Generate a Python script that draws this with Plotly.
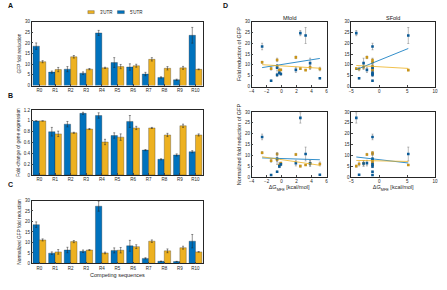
import numpy as np
import plotly.graph_objects as go

cats = ["R0", "R1", "R2", "R3", "R4", "R5", "R6", "R7", "R8", "R9", "R10"]
legend_names = ["3'UTR", "5'UTR"]

# Panel A: GFP fold reduction
a_5 = [18.5, 6.3, 7.7, 5.8, 24.7, 10.8, 8.7, 5.4, 3.8, 2.7, 23.6]
a_5_err = [1.5, 0.5, 1.2, 0.6, 1.2, 2.3, 1.5, 0.8, 0.3, 0.3, 3.7]
a_3 = [11.2, 7.5, 13.5, 7.7, 8.3, 8.9, 9.3, 12.3, 8.1, 8.3, 7.6]
a_3_err = [0.5, 1.0, 0.6, 0.3, 0.3, 1.0, 0.7, 0.8, 0.8, 0.7, 0.2]

# Panel B: fold-change of gene expression
b_5 = [1.0, 0.80, 0.94, 1.14, 1.10, 0.73, 0.99, 0.46, 0.29, 0.37, 0.43]
b_5_err = [0.0, 0.08, 0.05, 0.02, 0.05, 0.05, 0.11, 0.01, 0.01, 0.02, 0.02]
b_3 = [1.0, 0.76, 0.78, 0.85, 0.61, 0.70, 0.87, 0.87, 0.74, 0.91, 0.74]
b_3_err = [0.0, 0.05, 0.01, 0.01, 0.05, 0.06, 0.03, 0.01, 0.03, 0.03, 0.02]

# Panel C: normalized GFP fold reduction
c_5 = [18.5, 4.9, 6.4, 5.8, 27.3, 6.2, 8.4, 2.4, 1.0, 0.9, 10.6]
c_5_err = [1.3, 0.6, 1.3, 0.6, 2.4, 1.2, 2.6, 0.3, 0.1, 0.1, 3.2]
c_3 = [11.2, 5.5, 10.4, 6.4, 5.0, 6.3, 8.0, 10.6, 6.0, 7.5, 5.5]
c_3_err = [0.5, 1.1, 0.5, 0.2, 0.4, 1.3, 0.9, 0.6, 0.9, 0.7, 0.1]

# Panel D: free energies of the competing sequences
dg_mfold = [-2.6, -0.3, 1.9, -0.1, 2.5, 3.8, -0.6, -0.6, 5.1, -1.4, 3.2]
dg_sfold = [-1.2, -1.2, -2.2, -1.2, -4.1, -2.8, -1.2, -1.2, -3.6, -1.2, 5.2]

BLUE = "#0072BD"
YELLOW = "#EDB120"
AX = "#262626"
FONT = "Liberation Sans"
W, H = 447, 290


def dom_x(a, b):
    return [a / W, b / W]


def dom_y(top, bottom):
    return [1 - bottom / H, 1 - top / H]


fig = go.Figure()

bar_panels = [
    ("", a_5, a_5_err, a_3, a_3_err, (20, 85), "GFP fold reduction", [0, 30], 5),
    ("2", b_5, b_5_err, b_3, b_3_err, (110, 176), "Fold-change of gene expression", [0, 1.2], 0.2),
    ("3", c_5, c_5_err, c_3, c_3_err, (202, 266), "Normalized GFP fold reduction", [0, 30], 5),
]

layout = dict(
    width=W, height=H, margin=dict(l=0, r=0, t=0, b=0),
    paper_bgcolor="white", plot_bgcolor="white",
    font=dict(family=FONT, size=5, color=AX),
    barmode="group", bargap=0.18, bargroupgap=0.0,
    showlegend=False,
)

xpos = list(range(len(cats)))

for sfx, v5, e5, v3, e3, (top, bot), ttl, yr, dt in bar_panels:
    xa = "x" + sfx
    ya = "y" + sfx
    fig.add_trace(go.Bar(x=xpos, y=v5, name=legend_names[1],
                         marker=dict(color=BLUE, line=dict(color=AX, width=0.3)),
                         error_y=dict(type="data", array=e5, color=AX, thickness=0.5, width=1),
                         xaxis=xa, yaxis=ya, offsetgroup="5"))
    fig.add_trace(go.Bar(x=xpos, y=v3, name=legend_names[0],
                         marker=dict(color=YELLOW, line=dict(color=AX, width=0.3)),
                         error_y=dict(type="data", array=e3, color=AX, thickness=0.5, width=1),
                         xaxis=xa, yaxis=ya, offsetgroup="3"))
    layout["xaxis" + sfx] = dict(domain=dom_x(29, 203), anchor=ya, range=[-0.5, 10.5],
                                 tickvals=xpos, ticktext=cats, ticks="inside", ticklen=2,
                                 showline=True, linecolor=AX, linewidth=0.5, mirror=True,
                                 showgrid=False, zeroline=False, tickfont=dict(size=4.5))
    layout["yaxis" + sfx] = dict(domain=dom_y(top, bot), anchor=xa, range=yr, dtick=dt,
                                 ticks="inside", ticklen=2, showline=True, linecolor=AX,
                                 linewidth=0.5, mirror=True, showgrid=False, zeroline=False,
                                 tickfont=dict(size=4.5),
                                 title=dict(text=ttl, font=dict(size=4.8), standoff=3))

layout["xaxis3"]["title"] = dict(text="Competing sequences", font=dict(size=5.5), standoff=3)

# Panel D scatter subplots
scat = [
    ("4", dg_mfold, a_5, a_5_err, a_3, a_3_err, (252, 328), (20, 86), [-4, 6], 2, "Fold reduction of GFP", "Mfold", False),
    ("5", dg_sfold, a_5, a_5_err, a_3, a_3_err, (353, 438), (20, 86), [-5, 10], 5, None, "SFold", False),
    ("6", dg_mfold, c_5, c_5_err, c_3, c_3_err, (252, 328), (112, 178), [-4, 6], 2, "Normalized fold reduction of GFP", None, True),
    ("7", dg_sfold, c_5, c_5_err, c_3, c_3_err, (353, 438), (112, 178), [-5, 10], 5, None, None, True),
]

annotations = []
shapes = []
for sfx, xs, v5, e5, v3, e3, (xl, xr), (top, bot), xr_, xdt, ytitle, ptitle, xlab in scat:
    xa = "x" + sfx
    ya = "y" + sfx
    for vals, errs, col in ((v3, e3, "#C8941A"), (v5, e5, "#0A5A96")):
        fig.add_trace(go.Scatter(x=xs, y=vals, mode="markers", xaxis=xa, yaxis=ya,
                                 marker=dict(color=col, size=2.6, symbol="square"),
                                 error_y=dict(type="data", array=errs, color="#777777", thickness=0.5, width=1)))
    for vals, col in ((v5, BLUE), (v3, YELLOW)):
        k, b = np.polyfit(xs, vals, 1)
        lx = np.array([min(xs), max(xs)])
        fig.add_trace(go.Scatter(x=lx, y=k * lx + b, mode="lines", xaxis=xa, yaxis=ya,
                                 line=dict(color=col, width=0.8)))
    layout["xaxis" + sfx] = dict(domain=dom_x(xl, xr), anchor=ya, range=xr_, dtick=xdt,
                                 ticks="inside", ticklen=2, showline=True, linecolor=AX, linewidth=0.5,
                                 mirror=True, showgrid=False, zeroline=False, tickfont=dict(size=4.5))
    if xlab:
        layout["xaxis" + sfx]["title"] = dict(text="ΔG<sub>MFE</sub> [kcal/mol]", font=dict(size=5.5), standoff=2)
    layout["yaxis" + sfx] = dict(domain=dom_y(top, bot), anchor=xa, range=[0, 30], dtick=5,
                                 ticks="inside", ticklen=2, showline=True, linecolor=AX, linewidth=0.5,
                                 mirror=True, showgrid=False, zeroline=False, tickfont=dict(size=4.5))
    if ytitle:
        layout["yaxis" + sfx]["title"] = dict(text=ytitle, font=dict(size=5.5), standoff=3)
    if ptitle:
        annotations.append(dict(text=ptitle, x=(xl + xr) / 2 / W, y=1 - 16 / H, xref="paper", yref="paper",
                                showarrow=False, font=dict(size=5.5, color="#111111"),
                                xanchor="center", yanchor="middle"))

# Manual legend (3'UTR first, then 5'UTR), as in the reference
for (x0, x1, tx), col, name in (((86, 92.5, 96), YELLOW, legend_names[0]),
                                ((116, 123, 127), BLUE, legend_names[1])):
    shapes.append(dict(type="rect", xref="paper", yref="paper", x0=x0 / W, x1=x1 / W,
                       y0=1 - 11.8 / H, y1=1 - 8.8 / H, fillcolor=col, line=dict(color=AX, width=0.3)))
    annotations.append(dict(text=name, x=tx / W, y=1 - 10.3 / H, xref="paper", yref="paper",
                            showarrow=False, font=dict(size=4.5, color="#222222"),
                            xanchor="left", yanchor="middle"))

for letter, px, py in (("A", 3, 4), ("B", 3, 95), ("C", 3, 186), ("D", 221, 4)):
    annotations.append(dict(text="<b>%s</b>" % letter, x=px / W, y=1 - py / H, xref="paper", yref="paper",
                            showarrow=False, font=dict(size=7, color="#111111"),
                            xanchor="left", yanchor="middle"))

layout["annotations"] = annotations
layout["shapes"] = shapes
fig.update_layout(**layout)
fig.write_html("out.html")
